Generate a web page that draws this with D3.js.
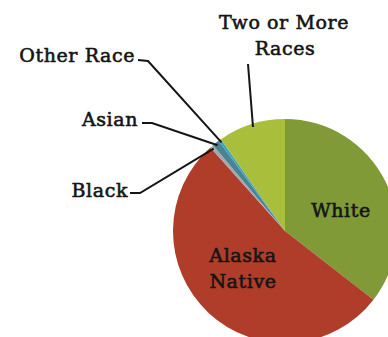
<!DOCTYPE html>
<html><head><meta charset="utf-8">
<script src="https://cdn.jsdelivr.net/npm/d3@7"></script>
<style>html,body{margin:0;padding:0;background:#fff;overflow:hidden}</style>
</head><body>
<svg id="c" width="388" height="337"></svg>
<script>
const categories = ["White", "Alaska Native", "Black", "Asian", "Other Race", "Two or More Races"];
const values = [35.5, 52.9, 0.5, 1.0, 0.4, 9.7];
const colors = ["#7F9A36", "#B03D2A", "#A3AAAC", "#4A8492", "#3DA3C6", "#A9BE3A"];

const svg = d3.select("#c");
const cx = 285, cy = 231, r = 112;
const g = svg.append("g").attr("transform", `translate(${cx},${cy})`);
const pie = d3.pie().sort(null).value(d => d)(values);
const arc = d3.arc().innerRadius(0).outerRadius(r);
g.selectAll("path").data(pie).enter().append("path")
  .attr("d", arc).attr("fill", (d, i) => colors[i]);

const font = "'DejaVu Serif', serif";
const FS = 19;
function label(x, y, t, anchor) {
  return svg.append("text").attr("x", x).attr("y", y).attr("text-anchor", anchor)
    .attr("font-family", font).attr("font-size", FS)
    .attr("letter-spacing", 0.6)
    .attr("fill", "#151515").attr("stroke", "#151515").attr("stroke-width", 0.6)
    .text(t);
}
// inside labels
label(341, 217, "White", "middle");
label(243, 262, "Alaska", "middle");
label(243, 288, "Native", "middle");

// outside labels with leader lines
const pointAt = (i, frac) => {
  const a = pie[i].startAngle + (pie[i].endAngle - pie[i].startAngle) * frac;
  return [cx + Math.sin(a) * (r - 3), cy - Math.cos(a) * (r - 3)];
};
const outside = [
  {i: 4, text: "Other Race", tx: 135, ty: 62, path: [[138, 60], [148, 61]]},
  {i: 3, text: "Asian", tx: 138, ty: 126, path: [[142, 123], [152, 123]]},
  {i: 2, text: "Black", tx: 128, ty: 197, path: [[130, 193], [140, 193]]}
];
outside.forEach(o => {
  label(o.tx, o.ty, o.text, "end");
  const pts = o.path.concat([pointAt(o.i, 0.5)]);
  svg.append("path").attr("d", d3.line()(pts)).attr("fill", "none")
    .attr("stroke", "#151515").attr("stroke-width", 2);
});
// Two or more
label(284, 29, "Two or More", "middle");
label(285, 55, "Races", "middle");
svg.append("path").attr("d", d3.line()([[248, 64], [253, 127]])).attr("fill", "none")
  .attr("stroke", "#151515").attr("stroke-width", 2);
</script>
</body></html>
